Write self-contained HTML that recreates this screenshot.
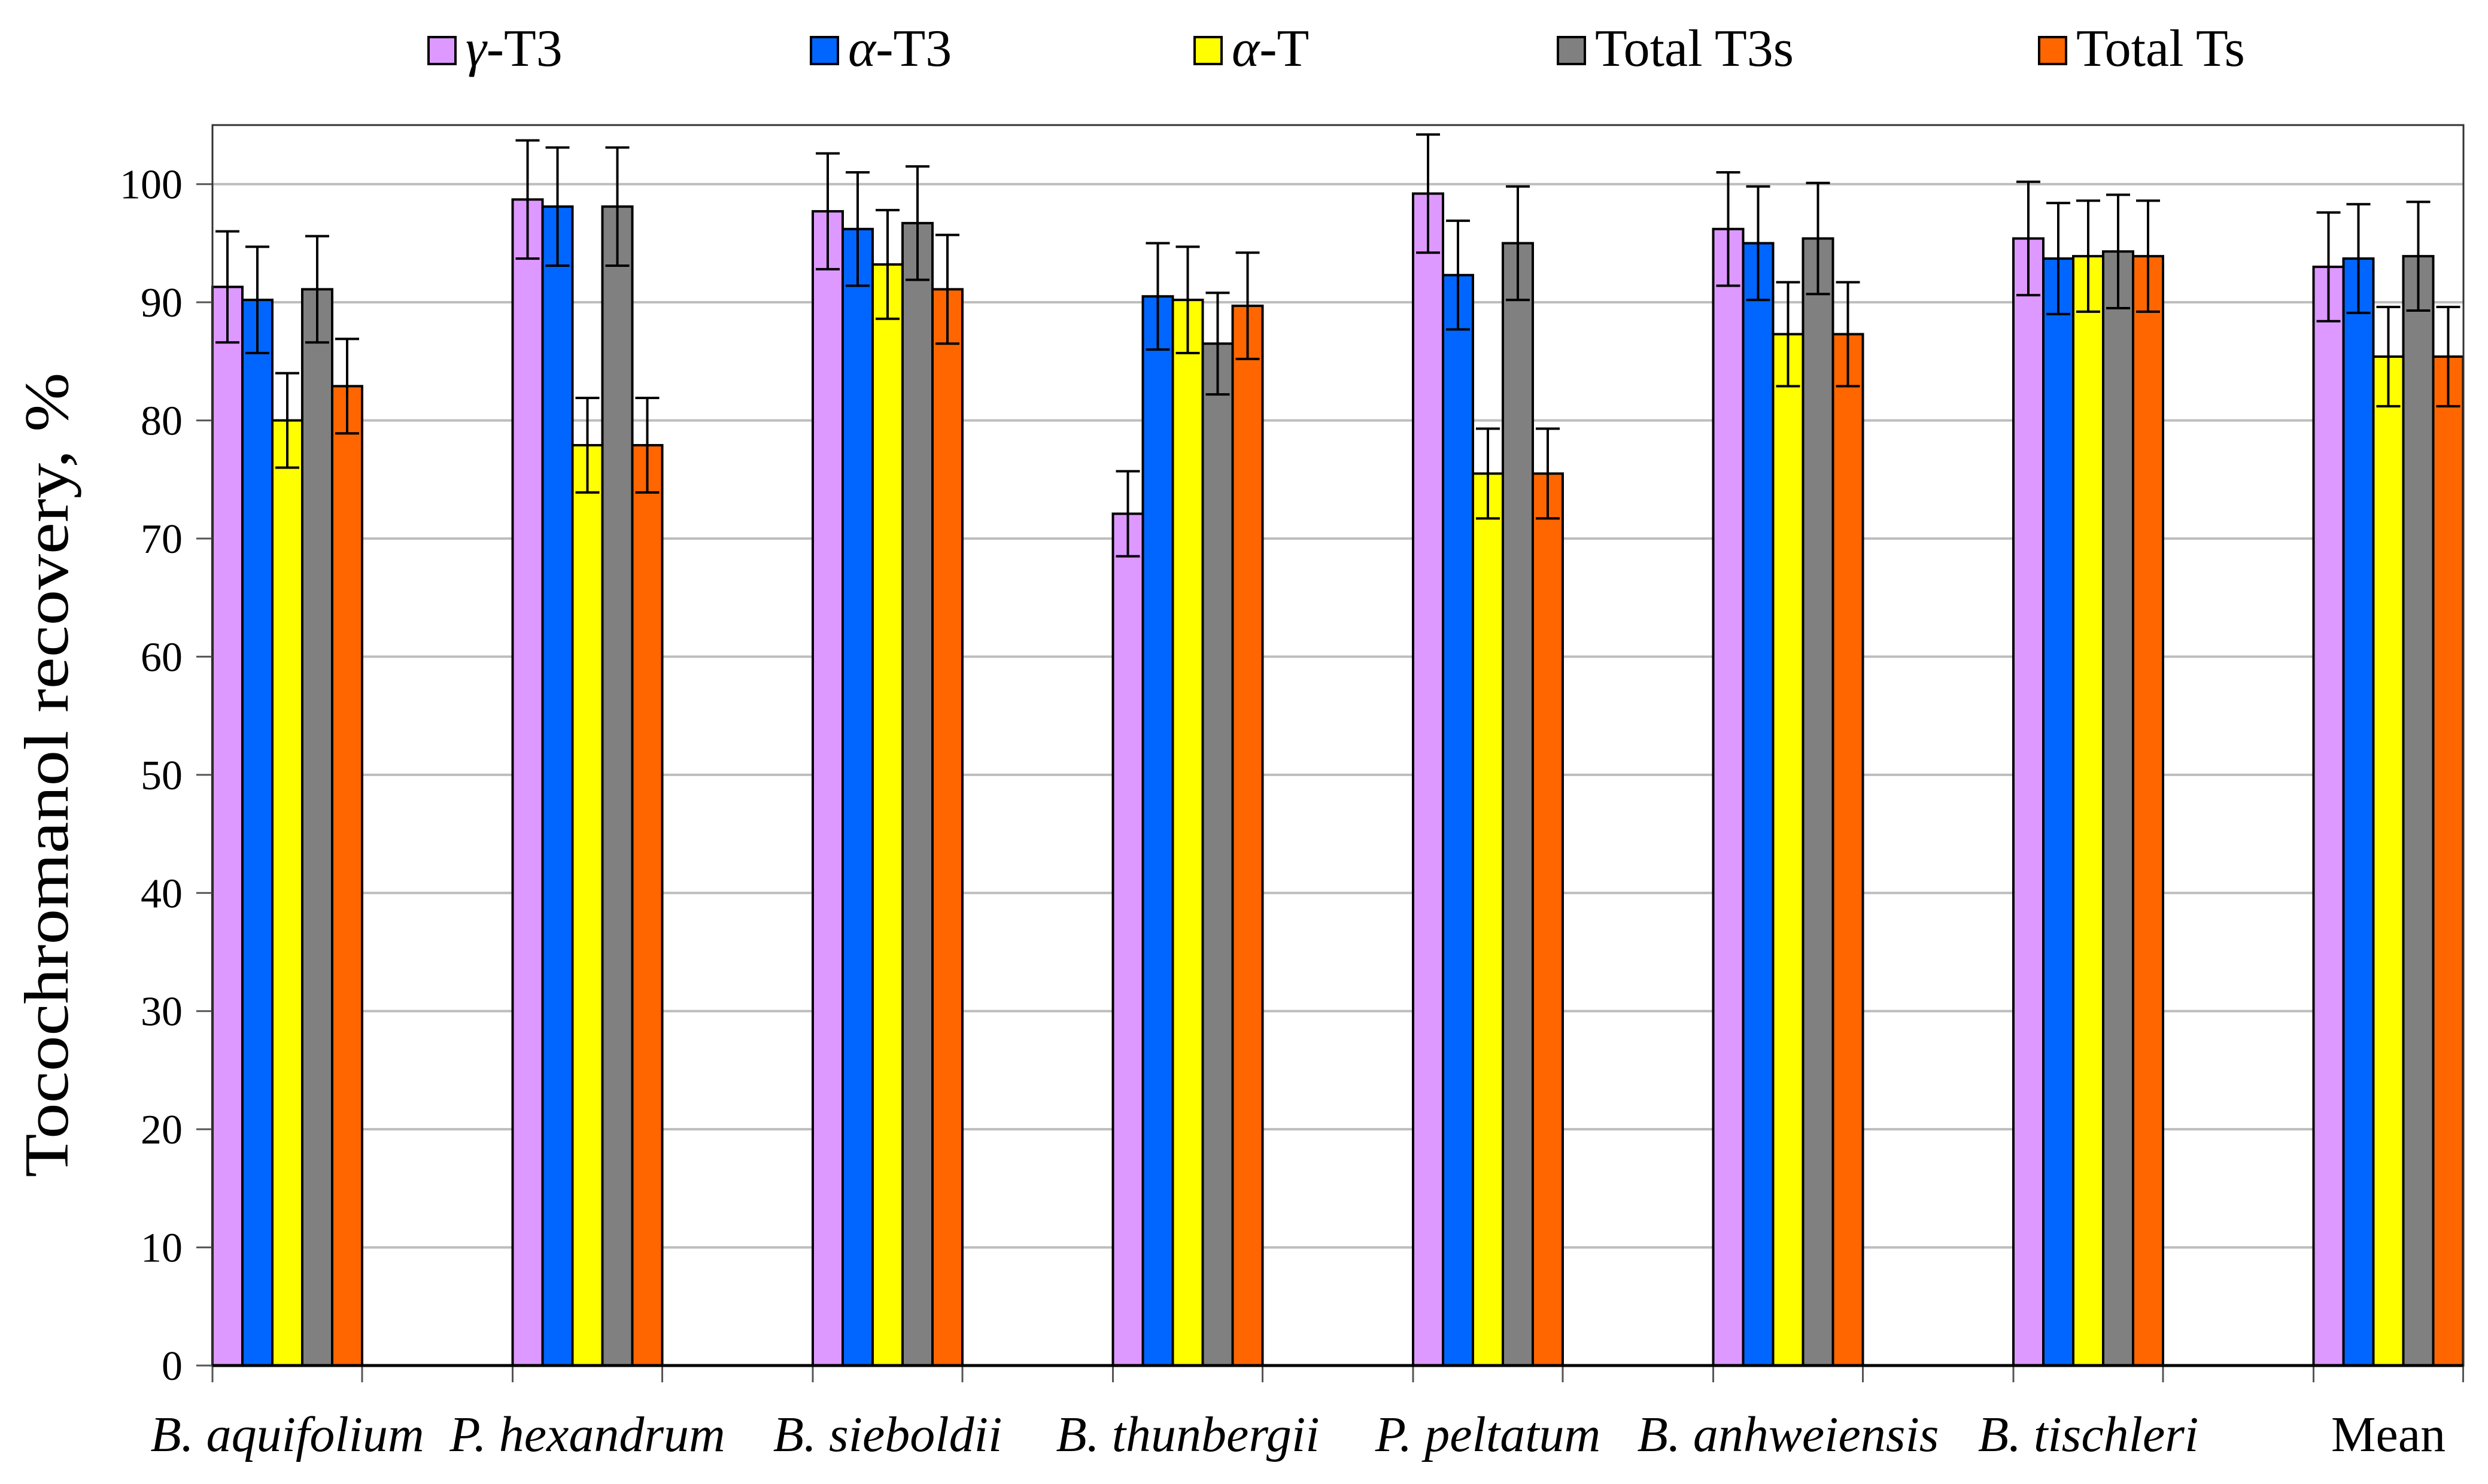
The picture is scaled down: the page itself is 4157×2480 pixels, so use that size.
<!DOCTYPE html>
<html><head><meta charset="utf-8"><style>
html,body{margin:0;padding:0;background:#fff;}
svg{display:block;font-family:"Liberation Serif","DejaVu Serif",serif;}
svg text{font-family:"Liberation Serif","DejaVu Serif",serif;}
</style></head><body>
<svg id="chart" width="4157" height="2480" viewBox="0 0 4157 2480" xmlns="http://www.w3.org/2000/svg">
<rect width="4157" height="2480" fill="#fff"/>
<g id="grid"></g>
<g id="bars"></g>
<g id="axes"></g>
<g id="legend"></g>
<text transform="translate(113,1295) rotate(-90)" text-anchor="middle" font-size="105" textLength="1345" lengthAdjust="spacingAndGlyphs">Tocochromanol recovery, %</text>
</svg>
<script>
const categories = ["B. aquifolium","P. hexandrum","B. sieboldii","B. thunbergii","P. peltatum","B. anhweiensis","B. tischleri","Mean"];
const seriesNames = ["γ-T3","α-T3","α-T","Total T3s","Total Ts"];
const gammaT3 = [91.3,98.7,97.7,72.1,99.2,96.2,95.4,93.0];
const alphaT3 = [90.2,98.1,96.2,90.5,92.3,95.0,93.7,93.7];
const alphaT = [80.0,77.9,93.2,90.2,75.5,87.3,93.9,85.4];
const totalT3s = [91.1,98.1,96.7,86.5,95.0,95.4,94.3,93.9];
const totalTs = [82.9,77.9,91.1,89.7,75.5,87.3,93.9,85.4];
const errGammaT3 = [4.7,5.0,4.9,3.6,5.0,4.8,4.8,4.6];
const errAlphaT3 = [4.5,5.0,4.8,4.5,4.6,4.8,4.7,4.6];
const errAlphaT = [4.0,4.0,4.6,4.5,3.8,4.4,4.7,4.2];
const errTotalT3s = [4.5,5.0,4.8,4.3,4.8,4.7,4.8,4.6];
const errTotalTs = [4.0,4.0,4.6,4.5,3.8,4.4,4.7,4.2];
const yTicks = [0,10,20,30,40,50,60,70,80,90,100];

const NS="http://www.w3.org/2000/svg";
const colors=["#dd99ff","#0066ff","#ffff00","#808080","#ff6600"];
const series=[gammaT3,alphaT3,alphaT,totalT3s,totalTs];
const errs=[errGammaT3,errAlphaT3,errAlphaT,errTotalT3s,errTotalTs];
const L=355,T=209,B=2282,R=4116,catW=501.5,barW=50;
const y=v=>B-(v/105)*(B-T);
const x=i=>L+i*catW;
function mk(tag,attrs,parent){const e=document.createElementNS(NS,tag);for(const k in attrs)e.setAttribute(k,attrs[k]);parent.appendChild(e);return e;}
const grid=document.getElementById('grid'),bars=document.getElementById('bars'),axes=document.getElementById('axes'),legend=document.getElementById('legend');
yTicks.forEach(t=>{
  if(t>0){const g=mk('line',{x1:L,x2:R,y1:y(t),y2:y(t),stroke:'#bdbdbd','stroke-width':4},grid);
  
  }
  const tk=mk('line',{x1:328,x2:L,y1:y(t),y2:y(t),stroke:'#555','stroke-width':3},axes);
  
  
  const tl=mk('text',{x:305,y:y(t)+24,'text-anchor':'end','font-size':70},axes);
  tl.textContent=t;
  
  
});
const frame=mk('rect',{x:L,y:T,width:R-L,height:B-T,fill:'none',stroke:'#333','stroke-width':3},axes);


categories.forEach((c,i)=>{
  series.forEach((s,j)=>{
    const bx=x(i)+j*barW;
    const r=mk('rect',{x:bx,y:y(s[i]),width:barW,height:B-y(s[i]),fill:colors[j],stroke:'#000','stroke-width':4},bars);
    
    
    const cx=bx+barW/2,hi=y(s[i]+errs[j][i]),lo=y(s[i]-errs[j][i]);
    const eb=mk('path',{d:`M${cx},${hi}V${lo}M${cx-20},${hi}H${cx+20}M${cx-20},${lo}H${cx+20}`,stroke:'#000','stroke-width':4,fill:'none'},bars);
    
    
  });
  [x(i),x(i)+5*barW].forEach(tx=>{
    const tk=mk('line',{x1:tx,x2:tx,y1:B,y2:B+28,stroke:'#555','stroke-width':3},axes);
    
    
  });
  const lb=mk('text',{x:x(i)+2.5*barW,y:2425,'text-anchor':'middle','font-size':84,'font-style':c==='Mean'?'normal':'italic'},axes);
  lb.textContent=c;
  
  
});
const ax=mk('line',{x1:L,x2:R,y1:B,y2:B,stroke:'#000','stroke-width':5},axes);


const legX=[716,1355,1996,2603,3407];
seriesNames.forEach((n,j)=>{
  const sw=mk('rect',{x:legX[j],y:62,width:45,height:45,fill:colors[j],stroke:'#000','stroke-width':4},legend);
  
  
  const t=mk('text',{x:legX[j]+62,y:110,'font-size':88,'font-family':'"Liberation Serif", "DejaVu Serif", serif'},legend);
  const first=n.charAt(0);
  if(first==='γ'||first==='α'){
    const ts=mk('tspan',{'font-style':'italic'},t);
    ts.textContent=first;
    t.appendChild(document.createTextNode(n.slice(1)));
  } else {
    t.textContent=n;
  }
  
  
});
</script>
</body></html>
